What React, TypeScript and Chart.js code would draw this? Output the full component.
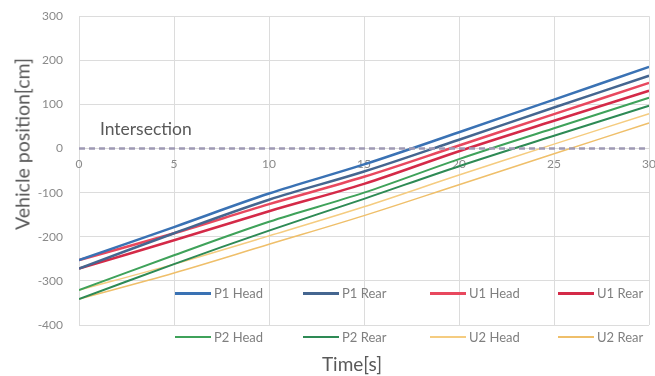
import React, { useEffect, useRef } from 'react';
import { Chart, registerables } from 'chart.js';

Chart.register(...registerables);

const times = [0, 5, 10, 15, 20, 25, 30];
const p1Head = [-253, -178, -102, -36, 37, 111, 185];
const p1Rear = [-272, -192, -116, -52, 20, 93, 165];
const u1Head = [-253, -192, -126, -64, 7, 78, 149];
const u1Rear = [-272, -208, -142, -80, -6, 63, 131];
const p2Head = [-321, -242, -166, -100, -24, 46, 115];
const p2Rear = [-341, -262, -186, -114, -40, 29, 97];
const u2Head = [-321, -262, -198, -132, -60, 10, 79];
const u2Rear = [-341, -282, -217, -152, -82, -12, 58];
const intersectionLine = [0, 0];
const intersectionTimes = [0, 30];

const seriesNames = ['P1 Head', 'P1 Rear', 'U1 Head', 'U1 Rear', 'P2 Head', 'P2 Rear', 'U2 Head', 'U2 Rear'];
const seriesValues = [p1Head, p1Rear, u1Head, u1Rear, p2Head, p2Rear, u2Head, u2Rear];
const seriesColors = ['#3a72b4', '#456690', '#e8485e', '#d42a48', '#3fa25a', '#2e8a55', '#f5cc80', '#efbf6a'];
const seriesWidths = [2.5, 2.5, 2.5, 2.5, 2, 2, 1.5, 1.5];

const FONT = 'Lato, "Open Sans", sans-serif';

const intersectionLabel = {
  id: 'intersectionLabel',
  afterDatasetsDraw(chart: any) {
    const { ctx, scales } = chart;
    const x = scales.x.getPixelForValue(1.1);
    const y = scales.y.getPixelForValue(0) - 19;
    ctx.save();
    ctx.font = `17.5px ${FONT}`;
    ctx.fillStyle = '#595959';
    ctx.textAlign = 'left';
    ctx.textBaseline = 'middle';
    ctx.fillText('Intersection', x, y);
    ctx.restore();
  },
};

export default function App() {
  const ref = useRef<HTMLCanvasElement | null>(null);

  useEffect(() => {
    document.body.style.margin = '0';
    if (!ref.current) return;
    const datasets: any[] = seriesNames.map((name, i) => ({
      label: name,
      data: times.map((t, j) => ({ x: t, y: seriesValues[i][j] })),
      borderColor: seriesColors[i],
      backgroundColor: seriesColors[i],
      borderWidth: seriesWidths[i],
      pointRadius: 0,
      tension: 0.35,
      fill: false,
      order: 1,
    }));
    datasets.push({
      label: 'Intersection',
      data: intersectionTimes.map((t, j) => ({ x: t, y: intersectionLine[j] })),
      borderColor: '#9e99b4',
      borderWidth: 2.5,
      borderDash: [6, 4],
      pointRadius: 0,
      fill: false,
      order: 0,
    });
    const chart = new Chart(ref.current, {
      type: 'line',
      data: { datasets },
      plugins: [intersectionLabel],
      options: {
        animation: false,
        responsive: false,
        maintainAspectRatio: false,
        layout: { padding: { top: 8, right: 1, bottom: 51, left: 0 } },
        plugins: { legend: { display: false }, tooltip: { enabled: false } },
        scales: {
          x: {
            type: 'linear',
            position: { y: 0 } as any,
            min: 0,
            max: 30,
            ticks: { stepSize: 5, color: '#8a8a8a', font: { size: 12, family: FONT }, padding: 8 },
            grid: { color: '#dcdcdc', drawTicks: false },
            border: { display: false },
          },
          y: {
            min: -400,
            max: 300,
            ticks: { stepSize: 100, color: '#8a8a8a', font: { size: 12, family: FONT }, padding: 16 },
            grid: { color: '#dcdcdc', drawTicks: false },
            border: { display: false },
            afterFit(scale: any) {
              scale.width = 79;
            },
          },
        },
      },
    });
    return () => chart.destroy();
  }, []);

  const colLefts = [175, 303, 430, 558];
  const rowTops = [293, 337];

  return (
    <div style={{ position: 'relative', width: 655, height: 376, overflow: 'hidden', fontFamily: FONT, background: '#fff' }}>
      <canvas ref={ref} width={664} height={383} style={{ position: 'absolute', left: 0, top: -7 }} />
      {seriesNames.map((name, i) => (
        <div
          key={name}
          style={{
            position: 'absolute',
            left: colLefts[i % 4],
            top: rowTops[Math.floor(i / 4)] - 9,
            height: 18,
            display: 'flex',
            alignItems: 'center',
            whiteSpace: 'nowrap',
          }}
        >
          <span style={{ display: 'inline-block', width: 36, height: seriesWidths[i] + 0.5, background: seriesColors[i], marginRight: 3 }} />
          <span style={{ fontSize: 13, color: '#7f7f7f' }}>{name}</span>
        </div>
      ))}
      <div style={{ position: 'absolute', left: 252, width: 200, top: 352, textAlign: 'center', fontSize: 19, color: '#595959' }}>Time[s]</div>
      <div
        style={{
          position: 'absolute',
          left: 22,
          top: 144,
          transform: 'translate(-50%, -50%) rotate(-90deg)',
          whiteSpace: 'nowrap',
          fontSize: 19.5,
          color: '#595959',
        }}
      >
        Vehicle position[cm]
      </div>
    </div>
  );
}
